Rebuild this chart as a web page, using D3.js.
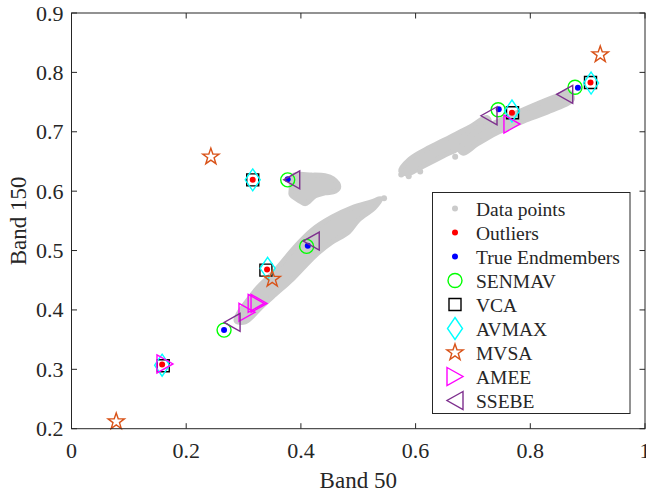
<!DOCTYPE html>
<html>
<head>
<meta charset="utf-8">
<script src="https://cdn.jsdelivr.net/npm/d3@7/dist/d3.min.js"></script>
<style>
    body { margin: 0; background: #fff; }
    svg text { font-family: "Liberation Serif", "Times New Roman", serif; fill: #262626; }
</style>
</head>
<body>
<div id="chart"></div>
<script>
(function () {
    // ticks
    var xTicks = [0, 0.2, 0.4, 0.6, 0.8, 1]
    var yTicks = [0.2, 0.3, 0.4, 0.5, 0.6, 0.7, 0.8, 0.9]

    // gray cloud of data points, outlines (Band 50, Band 150)
    var cloudBlob = [[0.387, 0.626], [0.419, 0.627], [0.442, 0.626], [0.456, 0.621], [0.466, 0.608],
        [0.460, 0.600], [0.442, 0.597], [0.425, 0.592], [0.408, 0.579], [0.399, 0.583], [0.383, 0.594], [0.383, 0.602]]
    var cloudLower = [[0.287, 0.382], [0.320, 0.432], [0.355, 0.466], [0.390, 0.506], [0.419, 0.534],
        [0.454, 0.556], [0.489, 0.572], [0.523, 0.582], [0.539, 0.587], [0.528, 0.572], [0.500, 0.551],
        [0.483, 0.531], [0.454, 0.514], [0.430, 0.496], [0.407, 0.474], [0.384, 0.451], [0.355, 0.426],
        [0.332, 0.406], [0.303, 0.380]]
    var cloudUpperA = [[0.574, 0.634], [0.590, 0.654], [0.625, 0.674], [0.660, 0.691], [0.695, 0.708],
        [0.724, 0.724], [0.729, 0.716], [0.718, 0.699], [0.683, 0.676], [0.648, 0.659], [0.613, 0.642], [0.585, 0.629]]
    var cloudUpperB = [[0.677, 0.670], [0.701, 0.697], [0.747, 0.719], [0.800, 0.742], [0.846, 0.760],
        [0.868, 0.767], [0.873, 0.754], [0.834, 0.735], [0.788, 0.718], [0.741, 0.698], [0.707, 0.679], [0.683, 0.664]]
    var strayPoints = [[0.669, 0.658], [0.608, 0.633], [0.545, 0.588], [0.575, 0.628], [0.588, 0.625]]

    var outliers = [[0.158, 0.308], [0.316, 0.619], [0.341, 0.468], [0.768, 0.732], [0.905, 0.783]]
    var trueEndmembers = [[0.266, 0.366], [0.377, 0.620], [0.412, 0.508], [0.745, 0.738], [0.883, 0.774]]
    var senmav = [[0.266, 0.366], [0.377, 0.619], [0.410, 0.507], [0.744, 0.737], [0.878, 0.775]]
    var vca = [[0.160, 0.306], [0.316, 0.619], [0.339, 0.467], [0.769, 0.732], [0.905, 0.783]]
    var avmax = [[0.158, 0.307], [0.316, 0.619], [0.342, 0.470], [0.768, 0.735], [0.906, 0.782]]
    var mvsa = [[0.078, 0.212], [0.243, 0.658], [0.350, 0.452], [0.922, 0.830]]
    var amee = [[0.163, 0.309], [0.306, 0.396], [0.322, 0.411], [0.327, 0.411], [0.768, 0.713]]
    var ssebe = [[0.280, 0.379], [0.384, 0.619], [0.418, 0.516], [0.728, 0.727], [0.860, 0.763]]

    var legendNames = ['Data points', 'Outliers', 'True Endmembers', 'SENMAV', 'VCA', 'AVMAX', 'MVSA', 'AMEE', 'SSEBE']

    var width = 646, height = 494
    var margin = {left: 71.5, top: 13, right: 1, bottom: 65.3}
    var w = width - margin.left - margin.right
    var h = height - margin.top - margin.bottom
    var axisColor = '#262626'
    var gray = '#cbcbcb'

    var svg = d3.select('#chart').append('svg').attr('width', width).attr('height', height)
    var g = svg.append('g').attr('transform', 'translate(' + margin.left + ',' + margin.top + ')')

    var x = d3.scaleLinear().domain([0, 1]).range([0, w])
    var y = d3.scaleLinear().domain([0.2, 0.9]).range([h, 0])

    // marker shapes, in pixels
    function markerPath(type) {
        if (type == 'circle') return d3.arc()({innerRadius: 0, outerRadius: 7, startAngle: 0, endAngle: 2 * Math.PI})
        if (type == 'square') return 'M-6,-6H6V6H-6Z'
        if (type == 'diamond') return 'M0,-11L7.5,0L0,11L-7.5,0Z'
        if (type == 'right') return 'M-8,-9L8,0L-8,9Z'
        if (type == 'left') return 'M8,-9L-8,0L8,9Z'
        if (type == 'star') {
            var pts = []
            for (var i = 0; i < 10; i++) {
                var r = i % 2 == 0 ? 8.6 : 3.4
                var a = -Math.PI / 2 + i * Math.PI / 5
                pts.push([r * Math.cos(a), r * Math.sin(a)])
            }
            return 'M' + pts.join('L') + 'Z'
        }
    }

    var series = [
        {data: senmav, type: 'circle', color: '#00ff00'},
        {data: vca, type: 'square', color: '#000000'},
        {data: avmax, type: 'diamond', color: '#00ffff'},
        {data: mvsa, type: 'star', color: '#d95319'},
        {data: amee, type: 'right', color: '#ff00ff'},
        {data: ssebe, type: 'left', color: '#7e2f8e'}
    ]

    // cloud
    var area = d3.line().x(function (d) { return x(d[0]) }).y(function (d) { return y(d[1]) })
        .curve(d3.curveCatmullRomClosed)
    var clouds = [cloudBlob, cloudLower, cloudUpperA, cloudUpperB]
    g.selectAll('path.cloud').data(clouds).enter().append('path').attr('class', 'cloud')
        .attr('d', area).attr('fill', gray).attr('stroke', gray).attr('stroke-width', 5)
        .attr('stroke-linejoin', 'round')
    g.selectAll('circle.stray').data(strayPoints).enter().append('circle').attr('class', 'stray')
        .attr('cx', function (d) { return x(d[0]) }).attr('cy', function (d) { return y(d[1]) })
        .attr('r', 3).attr('fill', gray)

    // dots
    function dots(data, color) {
        g.append('g').selectAll('circle').data(data).enter().append('circle')
            .attr('cx', function (d) { return x(d[0]) }).attr('cy', function (d) { return y(d[1]) })
            .attr('r', 3).attr('fill', color)
    }
    dots(outliers, '#ff0000')
    dots(trueEndmembers, '#0000ff')

    series.forEach(function (s) {
        g.append('g').selectAll('path').data(s.data).enter().append('path')
            .attr('transform', function (d) { return 'translate(' + x(d[0]) + ',' + y(d[1]) + ')' })
            .attr('d', markerPath(s.type)).attr('fill', 'none').attr('stroke', s.color).attr('stroke-width', 1.4)
    })

    // axes box with inward ticks
    var tickLen = 5.5
    g.append('rect').attr('width', w).attr('height', h).attr('fill', 'none')
        .attr('stroke', axisColor).attr('stroke-width', 1)
    var xt = g.append('g').selectAll('g').data(xTicks).enter().append('g')
    xt.append('line').attr('x1', x).attr('x2', x).attr('y1', h).attr('y2', h - tickLen).attr('stroke', axisColor)
    xt.append('line').attr('x1', x).attr('x2', x).attr('y1', 0).attr('y2', tickLen).attr('stroke', axisColor)
    xt.append('text').attr('x', x).attr('y', h + 29).attr('text-anchor', 'middle').attr('font-size', 22)
        .text(function (d) { return d3.format('~g')(d) })
    var yt = g.append('g').selectAll('g').data(yTicks).enter().append('g')
    yt.append('line').attr('y1', y).attr('y2', y).attr('x1', 0).attr('x2', tickLen).attr('stroke', axisColor)
    yt.append('line').attr('y1', y).attr('y2', y).attr('x1', w).attr('x2', w - tickLen).attr('stroke', axisColor)
    yt.append('text').attr('x', -8).attr('y', function (d) { return y(d) + 7.5 }).attr('text-anchor', 'end')
        .attr('font-size', 22).text(function (d) { return d3.format('.1f')(d) })

    g.append('text').attr('x', w / 2).attr('y', h + 59).attr('text-anchor', 'middle').attr('font-size', 23)
        .text('Band 50')
    g.append('text').attr('transform', 'translate(' + (-46) + ',' + (h / 2) + ') rotate(-90)')
        .attr('text-anchor', 'middle').attr('font-size', 23).text('Band 150')

    // legend
    var lg = svg.append('g').attr('transform', 'translate(432.5,192.5)')
    lg.append('rect').attr('width', 197.5).attr('height', 221).attr('fill', '#fff')
        .attr('stroke', axisColor).attr('stroke-width', 1)
    var rowY = function (i) { return 16 + i * 24 }
    var dotColors = [gray, '#ff0000', '#0000ff']
    legendNames.forEach(function (name, i) {
        var row = lg.append('g').attr('transform', 'translate(22.5,' + rowY(i) + ')')
        if (i < 3) {
            row.append('circle').attr('r', 3).attr('fill', dotColors[i])
        } else {
            var s = series[i - 3]
            row.append('path').attr('d', markerPath(s.type)).attr('fill', 'none')
                .attr('stroke', s.color).attr('stroke-width', 1.4)
        }
        lg.append('text').attr('x', 43.5).attr('y', rowY(i) + 7).attr('font-size', 19.5).text(name)
    })
})()
</script>
</body>
</html>
